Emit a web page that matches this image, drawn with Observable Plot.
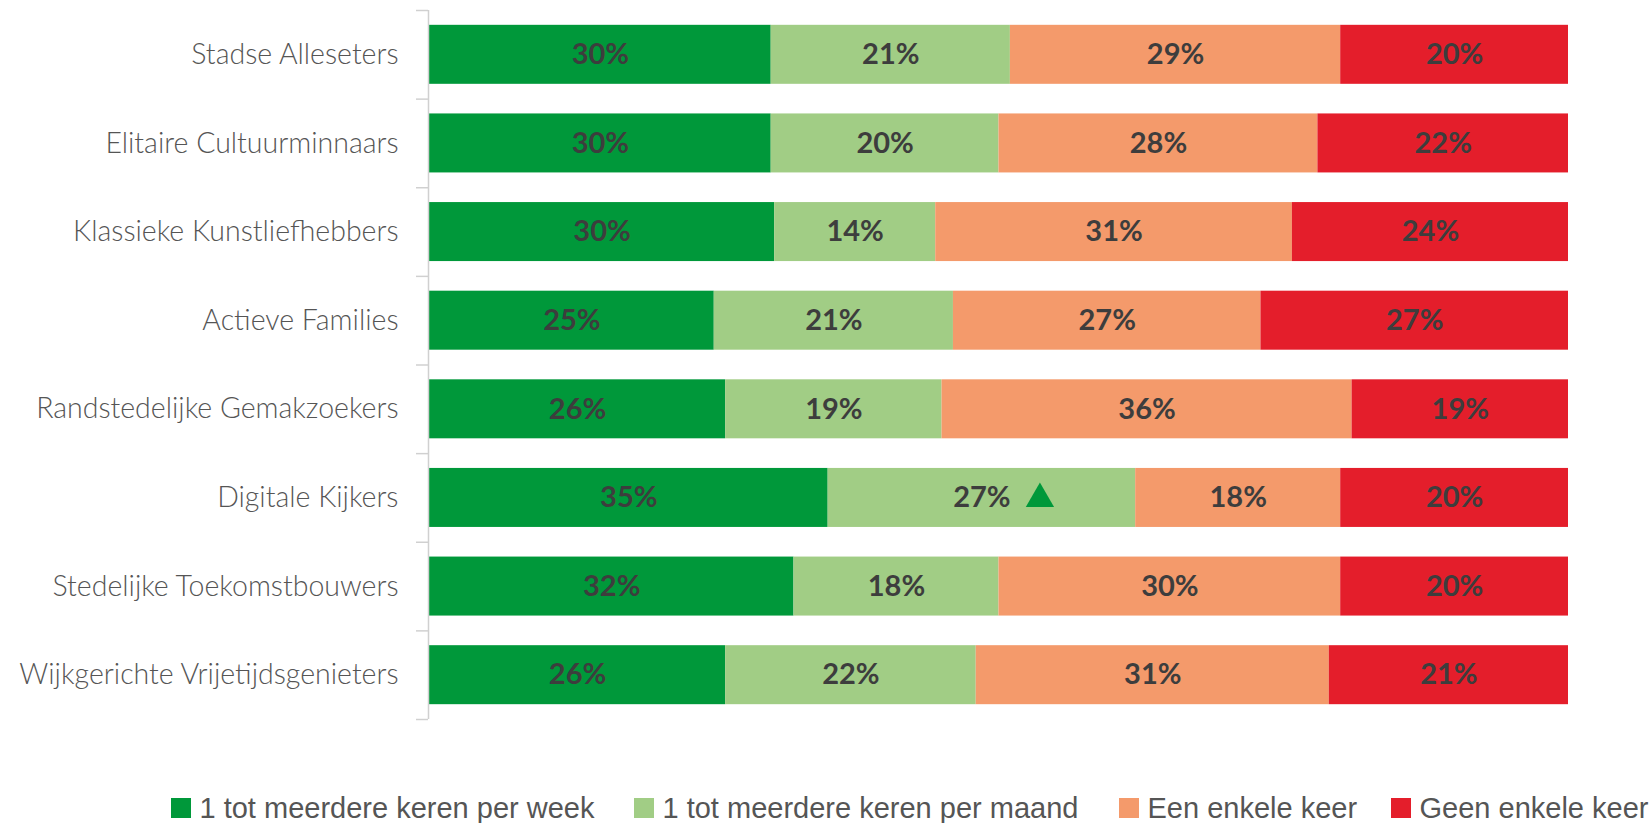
<!DOCTYPE html>
<html>
<head>
<meta charset="utf-8">
<script src="https://cdn.jsdelivr.net/npm/d3@7"></script>
<script src="https://cdn.jsdelivr.net/npm/@observablehq/plot@0.6"></script>
<style>
  html, body { margin: 0; padding: 0; background: #fff; }
  #wrap { position: relative; width: 1652px; height: 823px; overflow: hidden; }
  #legend { position: absolute; top: 795px; left: 0; width: 1652px; height: 28px;
            font-family: "Liberation Sans", Arial, sans-serif; font-size: 29px; color: #555; white-space: nowrap; }
  #legend .item { position: absolute; top: 0; display: flex; align-items: center; gap: 8.5px; line-height: 26px; }
  #legend .sw { width: 20px; height: 20px; display: inline-block; }
</style>
</head>
<body>
<div id="wrap">
  <div id="chart"></div>
  <div id="legend"></div>
</div>
<script>
const categories = [
  "Stadse Alleseters",
  "Elitaire Cultuurminnaars",
  "Klassieke Kunstliefhebbers",
  "Actieve Families",
  "Randstedelijke Gemakzoekers",
  "Digitale Kijkers",
  "Stedelijke Toekomstbouwers",
  "Wijkgerichte Vrijetijdsgenieters"
];
const series = [
  "1 tot meerdere keren per week",
  "1 tot meerdere keren per maand",
  "Een enkele keer",
  "Geen enkele keer"
];
const colors = ["#00983a", "#a1cd85", "#f49a6b", "#e41e2b"];

const weekly  = [30, 30, 30, 25, 26, 35, 32, 26];
const monthly = [21, 20, 14, 21, 19, 27, 18, 22];
const once    = [29, 28, 31, 27, 36, 18, 30, 31];
const never   = [20, 22, 24, 27, 19, 20, 20, 21];

// significant increase marker
const highlights = [{category: "Digitale Kijkers", series: "1 tot meerdere keren per maand"}];

const seriesValues = [weekly, monthly, once, never];
const data = [];
categories.forEach((c, i) => {
  series.forEach((s, j) => data.push({
    category: c, series: s, value: seriesValues[j][i],
    mark: highlights.some(h => h.category === c && h.series === s)
  }));
});

const W = 1652, H = 730, mt = 10, mb = 11, ml = 429, mr = 84;
const step = (H - mt - mb) / categories.length;
const inset = (step - 59) / 2;
const stack = {x: "value", y: "category", z: "series", offset: "normalize"};

const chart = Plot.plot({
  width: W,
  height: H,
  marginTop: mt,
  marginBottom: mb,
  marginLeft: ml,
  marginRight: mr,
  style: {fontFamily: "Lato, sans-serif", background: "#fff"},
  x: {domain: [0, 1], axis: null},
  y: {domain: categories, padding: 0, round: false, axis: null},
  color: {domain: series, range: colors},
  marks: [
    Plot.barX(data, Plot.stackX({...stack, fill: "series", insetTop: inset, insetBottom: inset})),
    Plot.text(data, Plot.stackX({...stack, text: d => d.value + "%", fill: "#3d3d3d",
      fontSize: 29, fontWeight: 700})),
    Plot.dot(data, Plot.filter(d => d.mark, Plot.stackX({...stack, symbol: "triangle", r: 10.5,
      fill: "#00983a", stroke: null, dx: 58, dy: 1}))),
    Plot.ruleX([0], {stroke: "#d0d0d0", strokeWidth: 1.5, dx: -1}),
    Plot.ruleY(categories, {y: d => d, x1: 0, x2: 0, insetLeft: -12, dx: -1, dy: -step / 2, stroke: "#d0d0d0", strokeWidth: 1.5}),
    Plot.ruleY(categories.slice(-1), {y: d => d, x1: 0, x2: 0, insetLeft: -12, dx: -1, dy: step / 2, stroke: "#d0d0d0", strokeWidth: 1.5}),
    Plot.axisY({tickSize: 0, tickPadding: 31, fontSize: 28.5, fill: "#555", fontWeight: 300, label: null})
  ]
});
document.getElementById("chart").appendChild(chart);

// legend item positions (layout only)
const legendLeft = [171, 634, 1119, 1391];
const legend = d3.select("#legend");
series.forEach((s, j) => {
  const item = legend.append("div").attr("class", "item").style("left", legendLeft[j] + "px");
  item.append("span").attr("class", "sw").style("background", colors[j]);
  item.append("span").text(s);
});
</script>
</body>
</html>
